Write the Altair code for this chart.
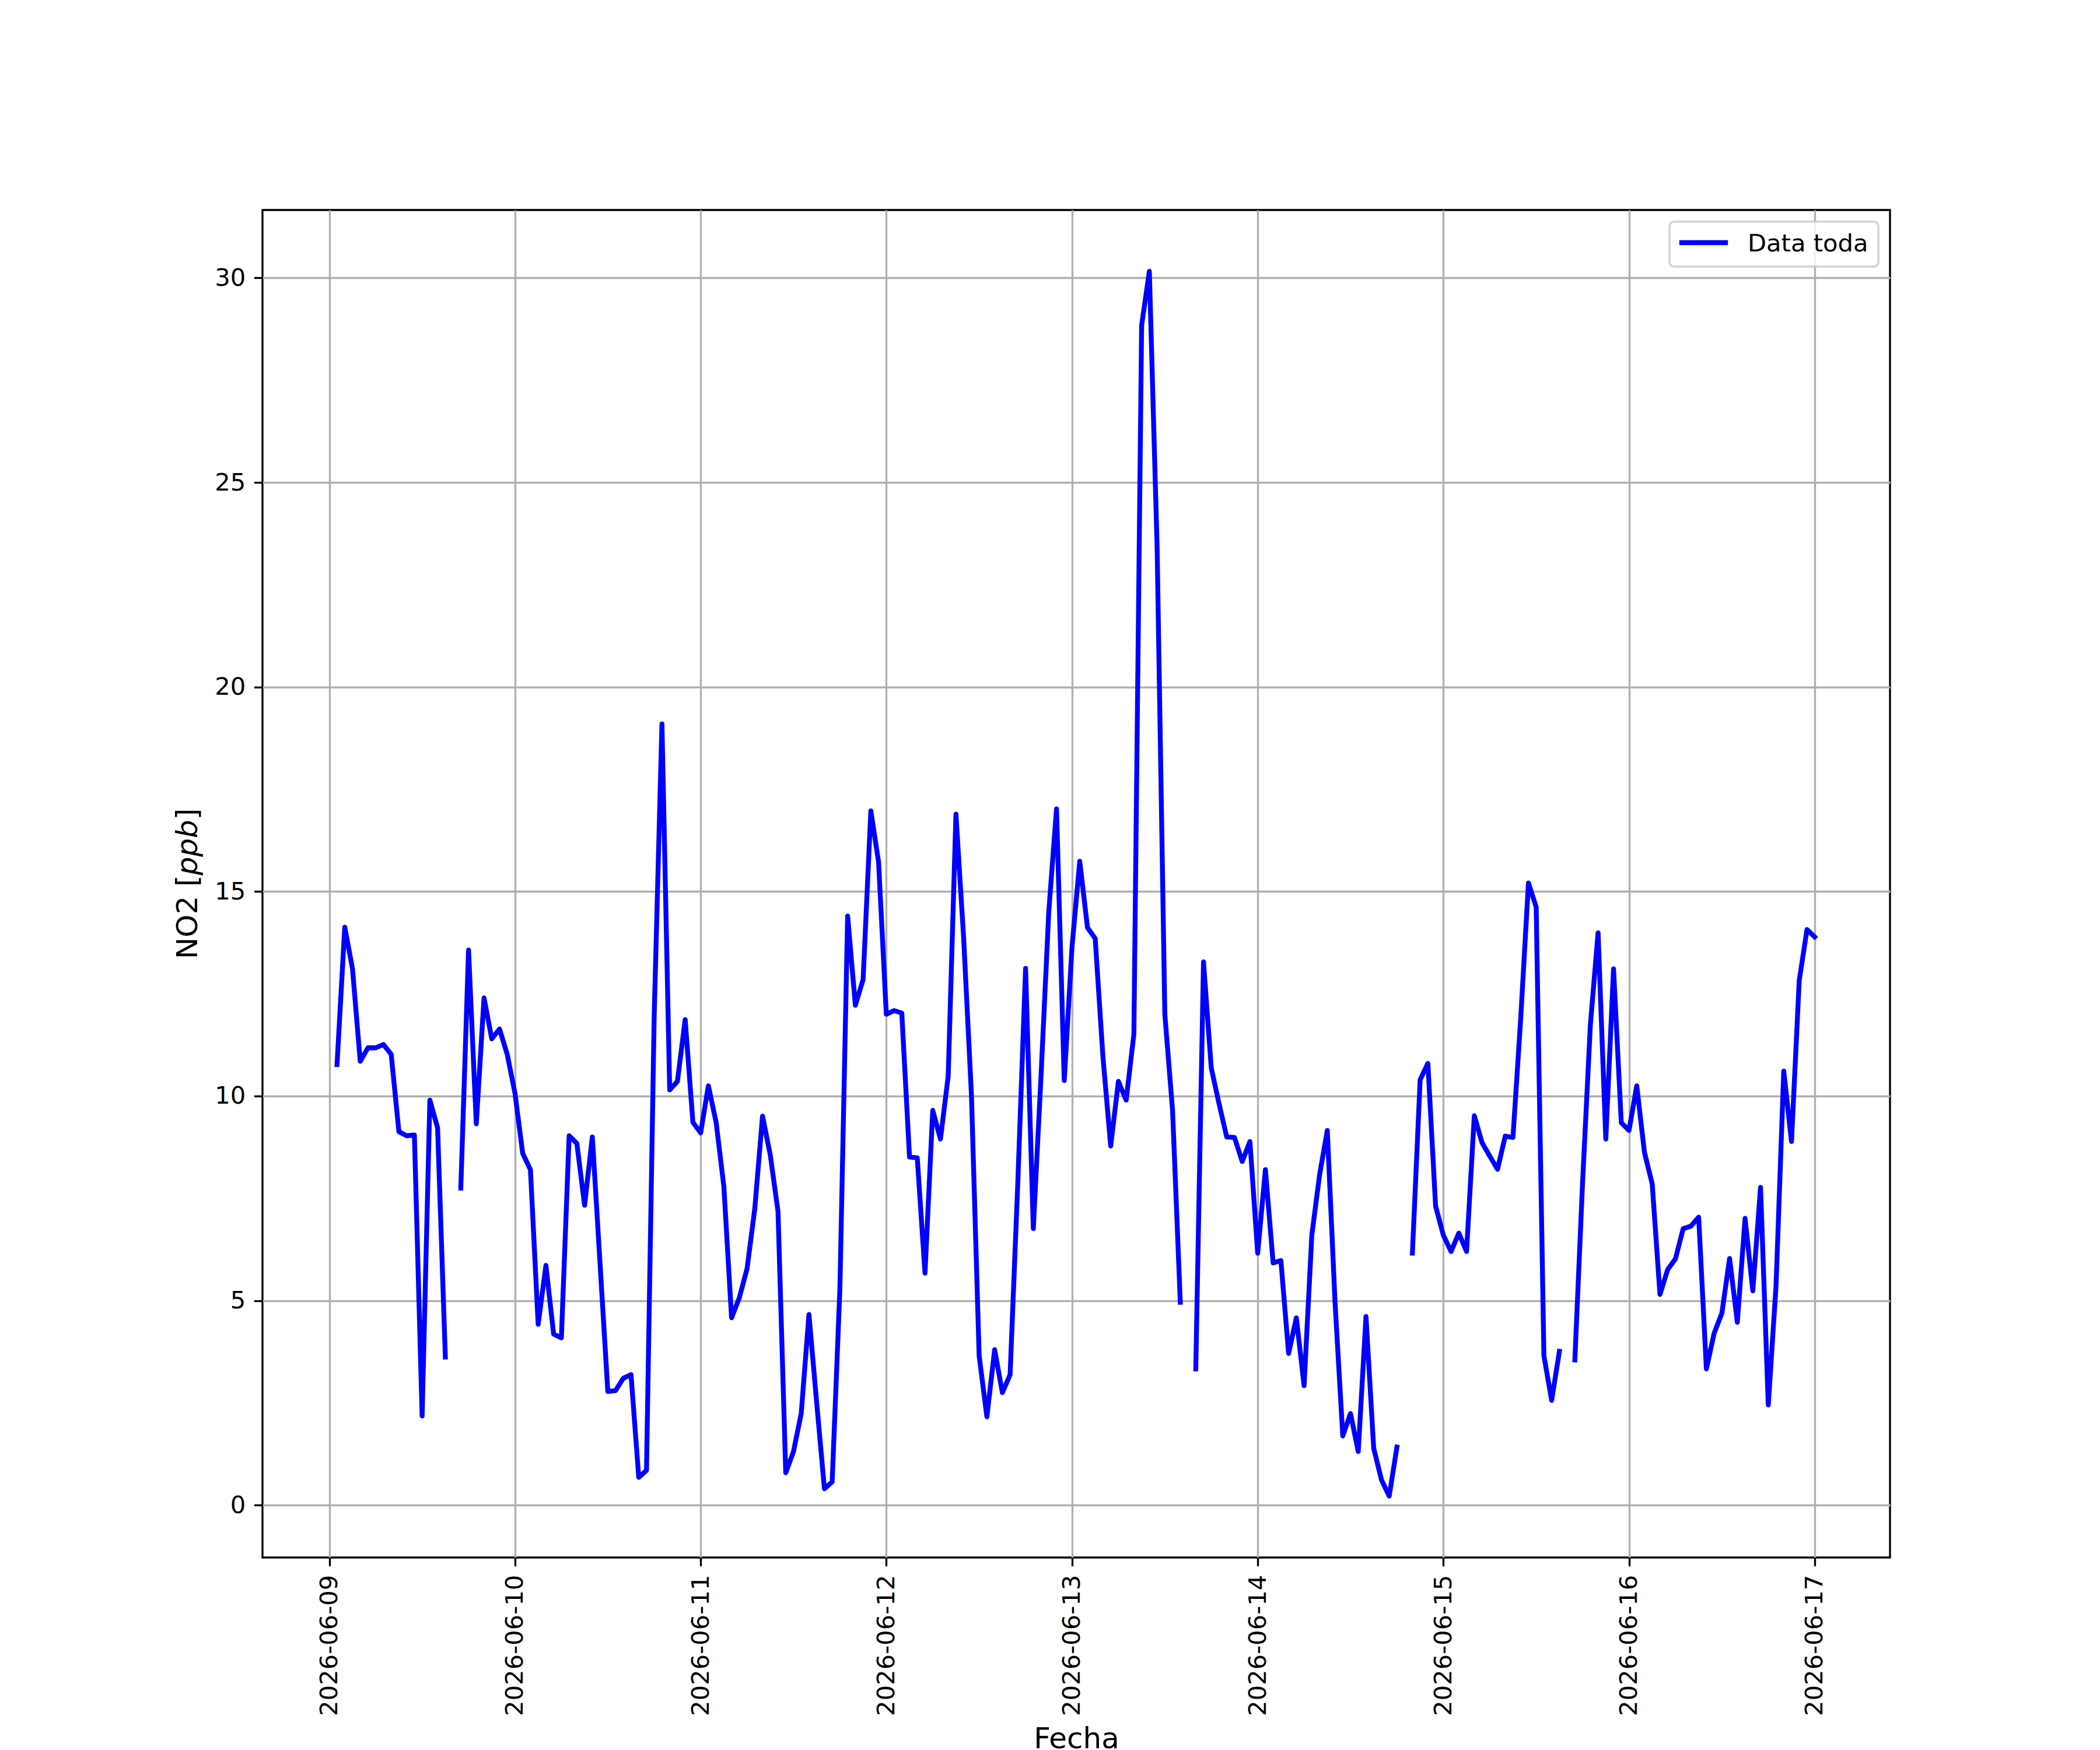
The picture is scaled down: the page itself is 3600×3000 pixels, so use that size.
import pandas as pd
import altair as alt

# ---- data (hourly NO2, ppb); None = missing hour ----
BASE = "2026-06-09"
day_09 = [10.77, 14.13, 13.11, 10.85, 11.18, 11.18, 11.26, 11.02, 9.13, 9.03, 9.05, 2.18,
          9.90, 9.22, 3.62, None, 7.75, 13.57, 9.32, 12.40, 11.40, 11.64, 11.02]          # 01h..23h
day_10 = [10.07, 8.60, 8.20, 4.42, 5.86, 4.18, 4.09, 9.03, 8.84, 7.33, 9.00, 5.90,
          2.78, 2.80, 3.10, 3.19, 0.68, 0.85, 12.00, 19.10, 10.15, 10.36, 11.87, 9.36]
day_11 = [9.10, 10.25, 9.36, 7.79, 4.58, 5.07, 5.78, 7.25, 9.51, 8.56, 7.18, 0.79,
          1.31, 2.24, 4.66, 2.50, 0.40, 0.57, 5.29, 14.40, 12.22, 12.85, 16.97, 15.72]
day_12 = [12.00, 12.09, 12.03, 8.51, 8.49, 5.67, 9.65, 8.95, 10.49, 16.89, 13.85, 10.04,
          3.65, 2.16, 3.80, 2.75, 3.19, 7.90, 13.12, 6.76, 10.50, 14.51, 17.02, 10.38]
day_13 = [13.64, 15.74, 14.12, 13.85, 10.96, 8.78, 10.36, 9.90, 11.51, 28.84, 30.16, 23.44,
          12.00, 9.65, 4.96, None, 3.33, 13.28, 10.69, 9.82, 9.00, 8.99, 8.40, 8.89]
day_14 = [6.16, 8.20, 5.92, 5.98, 3.71, 4.58, 2.92, 6.60, 8.07, 9.16, 4.96, 1.69,
          2.24, 1.31, 4.61, 1.39, 0.62, 0.22, 1.42, None, 6.16, 10.40, 10.80, 7.31]
day_15 = [6.60, 6.20, 6.65, 6.20, 9.52, 8.86, 8.53, 8.21, 9.02, 8.99, 11.90, 15.21,
          14.62, 3.65, 2.56, 3.76, None, 3.55, 7.90, 11.73, 13.99, 8.95, 13.11, 9.35]
day_16 = [9.16, 10.25, 8.62, 7.85, 5.15, 5.76, 6.02, 6.76, 6.82, 7.04, 3.33, 4.20,
          4.69, 6.03, 4.47, 7.01, 5.24, 7.77, 2.45, 5.35, 10.61, 8.89, 12.82, 14.07]
day_17 = [13.89]                                                                          # 00h

tick_days = [9, 10, 11, 12, 13, 14, 15, 16, 17]
y_ticks = [0, 5, 10, 15, 20, 25, 30]
series_name = "Data toda"

no2 = day_09 + day_10 + day_11 + day_12 + day_13 + day_14 + day_15 + day_16 + day_17
hours = list(range(1, len(no2) + 1))
times = [(pd.Timestamp(BASE) + pd.Timedelta(hours=h)).strftime("%Y-%m-%dT%H:%M:%SZ") for h in hours]
seg, s = [], 0
for v in no2:
    if v is None:
        s += 1
    seg.append(s)
df = pd.DataFrame({"Fecha": times, "NO2": no2, "seg": seg})
df = df[df["NO2"].notna()]

FONT = "DejaVu Sans"
TICK_FS = 41.67   # 10 pt @ 300 dpi
LAB_FS = 50.0     # 12 pt @ 300 dpi
LW = 8.33         # 2 pt line
W, H = 2790, 2310

x_enc = alt.X(
    "Fecha:T",
    scale=alt.Scale(
        type="utc",
        nice=False,
        domain=[alt.DateTime(year=2026, month=6, date=8, hours=15, minutes=22, utc=True),
                alt.DateTime(year=2026, month=6, date=17, hours=9, minutes=44, utc=True)],
    ),
    axis=alt.Axis(
        values=[alt.DateTime(year=2026, month=6, date=d, utc=True) for d in tick_days],
        labelExpr="utcFormat(datum.value, '%Y-%m-%d')",
        labelAngle=270, labelAlign="right", labelBaseline="middle", labelLimit=1000,
        title="Fecha", titleY=286, titleBaseline="top",
    ),
)
y_enc = alt.Y(
    "NO2:Q",
    scale=alt.Scale(domain=[-1.28, 31.66], nice=False, zero=False),
    axis=alt.Axis(values=y_ticks, title=None),
)

line = alt.Chart(df).mark_line(
    color="#0000ff", strokeWidth=LW, strokeCap="square", strokeJoin="round"
).encode(x=x_enc, y=y_enc, detail="seg:N")

one = pd.DataFrame({"k": [0]})

# y-axis title "NO2 [ppb]" with italic ppb (rotated), centred on the plot
y_base_x = -112
y_start = H / 2 + 129.35
def ypiece(txt, off, italic=False):
    kw = dict(text=txt, angle=270, align="left", baseline="alphabetic",
              font=FONT, fontSize=LAB_FS, color="black")
    if italic:
        kw["fontStyle"] = "italic"
    return alt.Chart(one).mark_text(**kw).encode(x=alt.value(y_base_x), y=alt.value(y_start - off))

ytitle = [ypiece("NO2", 0), ypiece("[", 124.46), ypiece("ppb", 143.97, True), ypiece("]", 239.19)]

# legend (upper right, matplotlib style)
leg_box = alt.Chart(one).mark_rect(
    fill="white", fillOpacity=0.8, stroke="#cccccc", strokeOpacity=0.8,
    strokeWidth=4.17, cornerRadius=8
).encode(x=alt.value(2412), x2=alt.value(2770), y=alt.value(20), y2=alt.value(97))
leg_line = alt.Chart(one).mark_rule(
    color="#0000ff", strokeWidth=LW, strokeCap="square"
).encode(x=alt.value(2433), x2=alt.value(2508), y=alt.value(56))
leg_text = alt.Chart(one).mark_text(
    text=series_name, align="left", baseline="alphabetic", font=FONT, fontSize=TICK_FS, color="black"
).encode(x=alt.value(2546), y=alt.value(70.7))

chart = alt.layer(line, *ytitle, leg_box, leg_line, leg_text).properties(
    width=W, height=H,
    autosize=alt.AutoSizeParams(type="none"),
    padding={"left": 442, "top": 352, "right": 352, "bottom": 330},
    background="white",
).configure_view(
    stroke="black", strokeWidth=3.33
).configure_axis(
    domain=False,
    grid=True, gridColor="#b0b0b0", gridWidth=3.33,
    ticks=True, tickColor="black", tickWidth=3.33, tickSize=14.58,
    labelFont=FONT, labelFontSize=TICK_FS, labelColor="black", labelPadding=14.58,
    titleFont=FONT, titleFontSize=LAB_FS, titleFontWeight="normal", titleColor="black",
)

chart.save("out.html", embed_options={"renderer": "svg", "actions": False})
